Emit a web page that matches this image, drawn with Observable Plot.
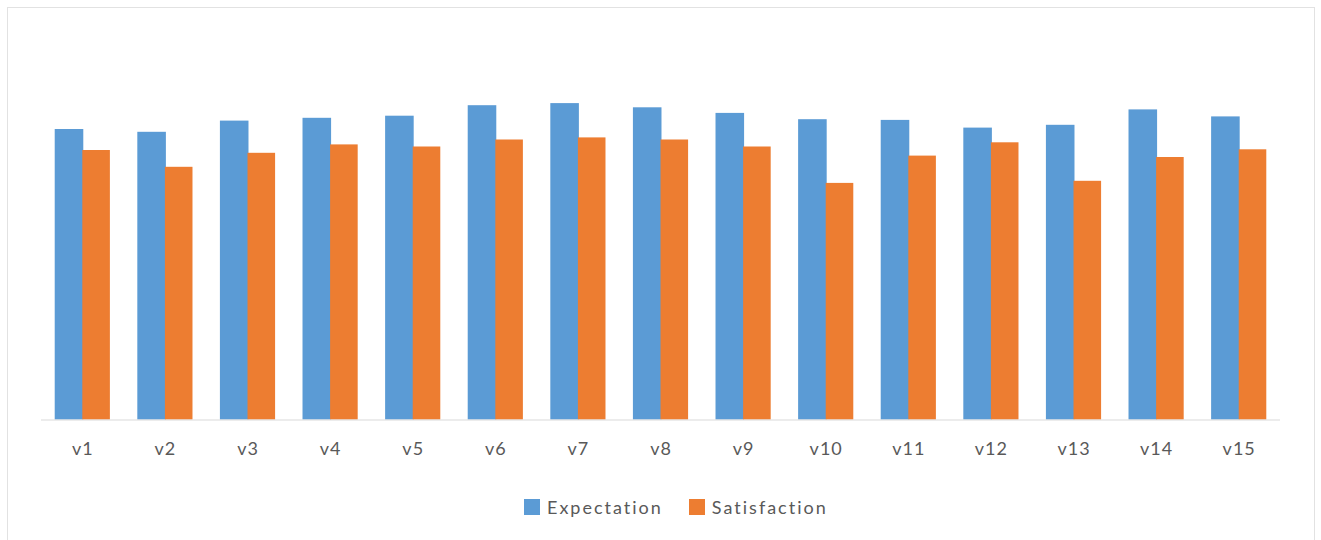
<!DOCTYPE html>
<html>
<head>
<meta charset="utf-8">
<script src="https://cdn.jsdelivr.net/npm/d3@7"></script>
<script src="https://cdn.jsdelivr.net/npm/@observablehq/plot@0.6"></script>
<style>
  body { margin: 0; background: #fff; font-family: Lato, "Open Sans", sans-serif; }
  #frame { position: absolute; left: 7px; top: 7px; width: 1308px; height: 620px; border: 1.5px solid #e2e2e2; box-sizing: border-box; }
  #chart { position: absolute; left: 0; top: 0; }
  #legend { position: absolute; top: 496px; left: 524px; display: flex; align-items: center; color: #595959; font-size: 18px; letter-spacing: 2px; }
  #legend .item { display: flex; align-items: center; margin-right: 26px; }
  #legend .swatch { width: 16px; height: 16px; margin-right: 7px; }
</style>
</head>
<body>
<div id="frame"></div>
<div id="chart"></div>
<div id="legend"></div>
<script>
// Variables rated in the survey
const categories = ["v1", "v2", "v3", "v4", "v5", "v6", "v7", "v8", "v9", "v10", "v11", "v12", "v13", "v14", "v15"];
// Mean scores per variable
const expectation  = [4.15, 4.11, 4.27, 4.31, 4.34, 4.49, 4.52, 4.46, 4.38, 4.29, 4.28, 4.17, 4.21, 4.43, 4.33];
const satisfaction = [3.85, 3.61, 3.81, 3.93, 3.90, 4.00, 4.03, 4.00, 3.90, 3.38, 3.77, 3.96, 3.41, 3.75, 3.86];
const seriesNames  = ["Expectation", "Satisfaction"];
const seriesColors = ["#5B9BD5", "#ED7D31"];

const rows = categories.flatMap((c, i) => [
  {cat: c, series: seriesNames[0], value: expectation[i]},
  {cat: c, series: seriesNames[1], value: satisfaction[i]}
]);

// each series takes half of the category band
const halfBar = 27.6;

const chart = Plot.plot({
  width: 1321,
  height: 470,
  marginTop: 69.5,
  marginBottom: 50.5,
  marginLeft: 41,
  marginRight: 41,
  style: { fontFamily: "Lato, 'Open Sans', sans-serif", fontSize: "18px", color: "#595959", background: "transparent", letterSpacing: "1px" },
  x: { domain: categories, paddingInner: 0.332, paddingOuter: 0.166, round: false, label: null, tickSize: 0, tickPadding: 22 },
  y: { domain: [0, 5], axis: null },
  color: { domain: seriesNames, range: seriesColors },
  marks: [
    Plot.barY(rows.filter(d => d.series === seriesNames[0]), { x: "cat", y: "value", fill: "series", insetRight: halfBar - 1 }),
    Plot.barY(rows.filter(d => d.series === seriesNames[1]), { x: "cat", y: "value", fill: "series", insetLeft: halfBar }),
    Plot.ruleY([0], { stroke: "#d9d9d9", strokeWidth: 1.2 })
  ]
});
document.getElementById("chart").append(chart);

// Legend below the plot
const legend = document.getElementById("legend");
seriesNames.forEach((name, i) => {
  const item = document.createElement("div");
  item.className = "item";
  const sw = document.createElement("span");
  sw.className = "swatch";
  sw.style.background = seriesColors[i];
  const label = document.createElement("span");
  label.textContent = name;
  item.append(sw, label);
  legend.append(item);
});
</script>
</body>
</html>
